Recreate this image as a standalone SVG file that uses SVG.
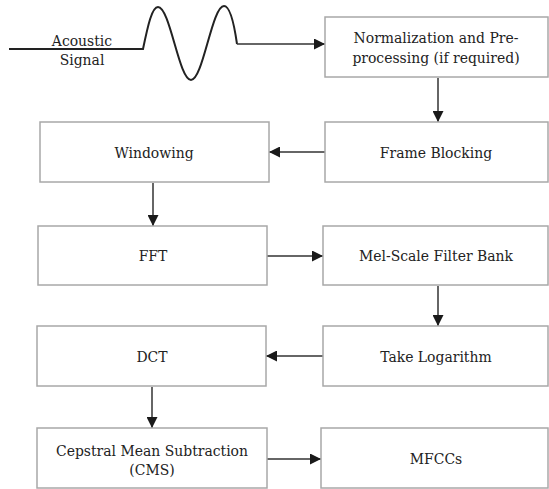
<svg xmlns="http://www.w3.org/2000/svg" width="549" height="489" viewBox="0 0 549 489">
<style>
.box{fill:#ffffff;stroke:#a8a8a8;stroke-width:1.5}
.t{font-family:'DejaVu Serif Condensed','DejaVu Serif',serif;font-stretch:condensed;font-size:15.5px;fill:#222;text-anchor:middle}
.c{fill:none;stroke:#333;stroke-width:1.5}
.w{fill:none;stroke:#222;stroke-width:2}
</style>
<defs>
<marker id="ah" viewBox="0 0 11 11" refX="11" refY="5.5" markerWidth="11" markerHeight="11" markerUnits="userSpaceOnUse" orient="auto">
<path d="M0,0 L11,5.5 L0,11 z" fill="#1a1a1a"/>
</marker>
</defs>
<rect width="549" height="489" fill="#ffffff"/>
<g id="signal">
<path class="w" d="M9,49 L143,49 C148,25 152,7 158,7 C170,7 179,80 191,80 C203,80 212,6 224,6 C231,6 235,30 237,44"/>
<text class="t" x="82" y="46">Acoustic</text>
<text class="t" x="82" y="65">Signal</text>
</g>
<g id="connectors">
<path class="c" d="M237,44 L325,44" marker-end="url(#ah)"/>
<path class="c" d="M438,78 L438,122" marker-end="url(#ah)"/>
<path class="c" d="M325,152 L269,152" marker-end="url(#ah)"/>
<path class="c" d="M153,183 L153,226" marker-end="url(#ah)"/>
<path class="c" d="M267,256 L323,256" marker-end="url(#ah)"/>
<path class="c" d="M438,286 L438,326" marker-end="url(#ah)"/>
<path class="c" d="M323,356 L266,356" marker-end="url(#ah)"/>
<path class="c" d="M152,387 L152,428" marker-end="url(#ah)"/>
<path class="c" d="M267,459 L321,459" marker-end="url(#ah)"/>
</g>
<g id="norm">
<rect class="box" x="325" y="17" width="223" height="60"/>
<text class="t" x="436" y="43">Normalization and Pre-</text>
<text class="t" x="436" y="63">processing (if required)</text>
</g>
<g id="frame">
<rect class="box" x="325" y="122" width="223" height="60"/>
<text class="t" x="436" y="158">Frame Blocking</text>
</g>
<g id="windowing">
<rect class="box" x="40" y="122" width="229" height="60"/>
<text class="t" x="154" y="158">Windowing</text>
</g>
<g id="fft">
<rect class="box" x="38" y="226" width="229" height="59"/>
<text class="t" x="153" y="261">FFT</text>
</g>
<g id="mel">
<rect class="box" x="323" y="226" width="225" height="59"/>
<text class="t" x="436" y="261">Mel-Scale Filter Bank</text>
</g>
<g id="log">
<rect class="box" x="323" y="326" width="225" height="60"/>
<text class="t" x="436" y="362">Take Logarithm</text>
</g>
<g id="dct">
<rect class="box" x="37" y="326" width="229" height="60"/>
<text class="t" x="152" y="362">DCT</text>
</g>
<g id="cms">
<rect class="box" x="37" y="428" width="230" height="60"/>
<text class="t" x="152" y="456">Cepstral Mean Subtraction</text>
<text class="t" x="152" y="475">(CMS)</text>
</g>
<g id="mfccs">
<rect class="box" x="321" y="428" width="227" height="60"/>
<text class="t" x="436" y="464">MFCCs</text>
</g>
</svg>
